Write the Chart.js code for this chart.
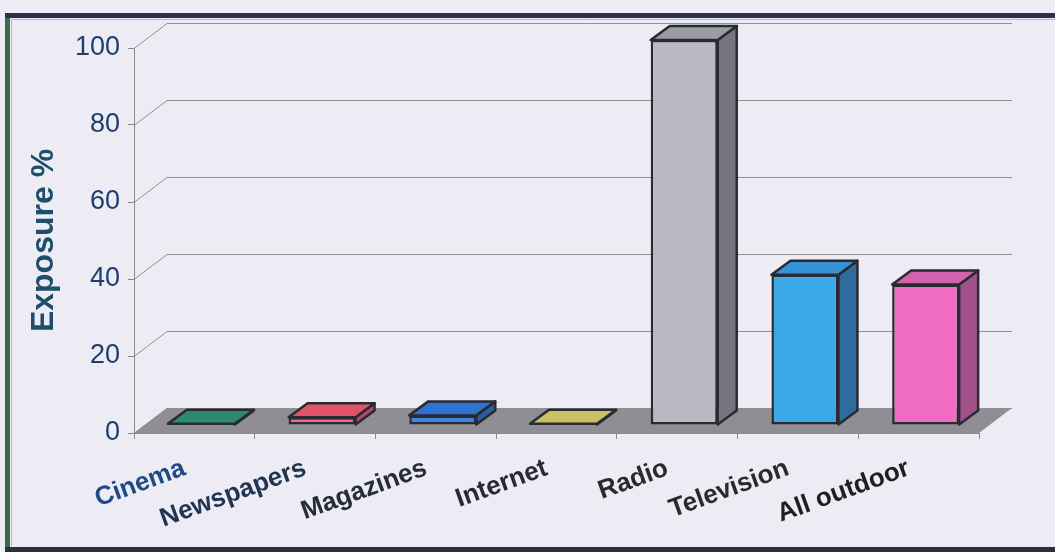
<!DOCTYPE html>
<html>
<head>
<meta charset="utf-8">
<script src="https://cdn.jsdelivr.net/npm/chart.js@4.4.1/dist/chart.umd.min.js"></script>
<style>
  html, body { margin: 0; padding: 0; background: #edecf5; }
  #wrap { width: 1055px; height: 552px; }
</style>
</head>
<body>
<div id="wrap"><canvas id="chart" width="1055" height="552"></canvas></div>
<script>
const categories = ['Cinema', 'Newspapers', 'Magazines', 'Internet', 'Radio', 'Television', 'All outdoor'];
const exposure = [0.3, 2, 2.5, 0.3, 100, 39, 36.5];
const yTicks = [0, 20, 40, 60, 80, 100];

// face colours: front, top, side
const frontColors = ['#2f8a6b', '#f06a7e', '#3a86e0', '#c9c264', '#b9b9c2', '#3ba8e8', '#f06cc4'];
const topColors = ['#2f8a6b', '#e05468', '#2f72d2', '#c9c264', '#9c9ca5', '#3592d6', '#d262ac'];
const sideColors = ['#276f57', '#b44a62', '#2b5ea8', '#a19a50', '#76767e', '#2e6c9c', '#a2508a'];
const labelColors = ['#1f4a86', '#1f3550', '#262c3c', '#2a2a34', '#2a2a2a', '#2b2b2f', '#1f1f22'];

const EDGE = '#2a2a32';
const WALL_DX = 33, WALL_DY = -25;   // floor / back wall depth
const BAR_DX = 19, BAR_DY = -14;     // bar thickness
const SHIFT_X = 7, SHIFT_Y = -8;     // bar row sits a little behind the front edge

function poly(ctx, pts, fill) {
    ctx.beginPath();
    ctx.moveTo(pts[0][0], pts[0][1]);
    for (let i = 1; i < pts.length; i++) ctx.lineTo(pts[i][0], pts[i][1]);
    ctx.closePath();
    ctx.fillStyle = fill;
    ctx.fill();
    ctx.stroke();
}

const frame = {
    id: 'frame',
    beforeDraw(chart) {
        const {ctx, width, height} = chart;
        ctx.save();
        ctx.fillStyle = '#edecf5';
        ctx.fillRect(0, 0, width, height);
        ctx.fillStyle = '#3b6a44';
        ctx.fillRect(5, 13, 5, height - 13);
        ctx.fillStyle = '#28324a';
        ctx.fillRect(5, 13, width - 5, 5);
        ctx.fillStyle = '#2b303c';
        ctx.fillRect(5, height - 5, width - 5, 5);
        ctx.fillStyle = '#b4b8bd';
        ctx.fillRect(11, 19, 1, height - 25);
        ctx.fillRect(11, 19, width - 11, 1);
        ctx.restore();
    },
    beforeDatasetsDraw(chart) {
        const {ctx, chartArea: a, scales: {y}} = chart;
        ctx.save();
        // grid lines on the back wall
        ctx.strokeStyle = '#8e9093';
        ctx.lineWidth = 1;
        y.ticks.forEach(t => {
            const py = Math.round(y.getPixelForValue(t.value)) + 0.5;
            ctx.beginPath();
            ctx.moveTo(a.left, py);
            ctx.lineTo(a.left + WALL_DX, py + WALL_DY);
            ctx.lineTo(a.right + WALL_DX, py + WALL_DY);
            ctx.stroke();
        });
        // floor
        const y0 = y.getPixelForValue(0);
        ctx.beginPath();
        ctx.moveTo(a.left, y0);
        ctx.lineTo(a.right, y0);
        ctx.lineTo(a.right + WALL_DX, y0 + WALL_DY);
        ctx.lineTo(a.left + WALL_DX, y0 + WALL_DY);
        ctx.closePath();
        ctx.fillStyle = '#8f8e94';
        ctx.fill();
        ctx.restore();
    }
};

const extrude = {
    id: 'extrude',
    beforeDatasetDraw(chart) {
        chart.ctx.save();
        chart.ctx.translate(SHIFT_X, SHIFT_Y);
    },
    afterDatasetDraw(chart, args) {
        const ctx = chart.ctx;
        ctx.lineWidth = 2.5;
        ctx.lineJoin = 'round';
        ctx.strokeStyle = EDGE;
        args.meta.data.forEach((bar, i) => {
            const {x, y, base, width} = bar.getProps(['x', 'y', 'base', 'width'], true);
            const l = x - width / 2, r = x + width / 2;
            poly(ctx, [[r, y], [r + BAR_DX, y + BAR_DY], [r + BAR_DX, base + BAR_DY], [r, base]], sideColors[i]);
            poly(ctx, [[l, y], [l + BAR_DX, y + BAR_DY], [r + BAR_DX, y + BAR_DY], [r, y]], topColors[i]);
        });
        ctx.restore();
    }
};

const FONT = "'Liberation Sans', Arial, sans-serif";

new Chart(document.getElementById('chart').getContext('2d'), {
    type: 'bar',
    data: {
        labels: categories,
        datasets: [{
            data: exposure,
            backgroundColor: frontColors,
            borderColor: EDGE,
            borderWidth: 2.5,
            borderSkipped: false,
            categoryPercentage: 1,
            barPercentage: 0.555,
            clip: false
        }]
    },
    options: {
        responsive: false,
        animation: false,
        devicePixelRatio: 1,
        layout: { padding: { left: 0, right: 76, top: 48, bottom: 0 } },
        plugins: {
            legend: { display: false },
            tooltip: { enabled: false }
        },
        scales: {
            x: {
                afterFit(scale) { scale.height = 119; },
                border: { display: true, color: '#8a8a8e', width: 1 },
                grid: { display: true, drawOnChartArea: false, offset: true, tickLength: 6, color: '#8a8a8e' },
                ticks: {
                    autoSkip: false,
                    minRotation: 20,
                    maxRotation: 20,
                    padding: 14,
                    labelOffset: -10,
                    color: (c) => labelColors[c.index],
                    font: { family: FONT, size: 26, weight: 'bold' }
                }
            },
            y: {
                min: 0,
                max: 100,
                afterFit(scale) { scale.width = 134; },
                afterBuildTicks(scale) { scale.ticks = yTicks.map(v => ({ value: v })); },
                border: { display: true, color: '#8a8a8e', width: 1 },
                grid: { display: true, drawOnChartArea: false, tickLength: 6, color: '#8a8a8e' },
                ticks: {
                    padding: 8,
                    color: '#1e3f6d',
                    font: { family: FONT, size: 27 }
                },
                title: {
                    display: true,
                    text: 'Exposure %',
                    color: '#1d4f6a',
                    padding: { top: 25, bottom: 0 },
                    font: { family: FONT, size: 32, weight: 'bold' }
                }
            }
        }
    },
    plugins: [frame, extrude]
});
</script>
</body>
</html>
